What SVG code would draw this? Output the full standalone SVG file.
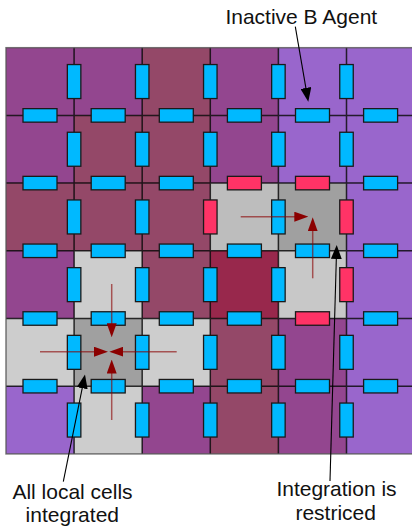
<svg xmlns="http://www.w3.org/2000/svg" width="412" height="529" viewBox="0 0 412 529">
<style>
.P{fill:#93468f}.M{fill:#944868}.L{fill:#9966cc}.C{fill:#98284c}.G1{fill:#cdcdcd}.G2{fill:#a0a0a0}.G3{fill:#bdbdbd}
.grid{stroke:#000;stroke-opacity:0.8;stroke-width:1.5;fill:none}
.b{fill:#00b9ff;stroke:#1a1a1a;stroke-width:1.3}
.r{fill:#ff3366;stroke:#1a1a1a;stroke-width:1.3}
.ra{stroke:#8b0000;stroke-opacity:0.6;stroke-width:1.5;fill:none;marker-end:url(#mr)}
.ba{stroke:#000;stroke-width:1.1;fill:none;marker-end:url(#mb)}
text{font-family:"Liberation Sans",Arial,sans-serif;font-size:21px;fill:#111;text-anchor:middle}
</style>
<defs>
<marker id="mr" markerWidth="14" markerHeight="10" refX="10" refY="5" orient="auto" markerUnits="userSpaceOnUse"><path d="M0,0 L14,5 L0,10 Z" fill="#8b0000"/></marker>
<marker id="mb" markerWidth="14" markerHeight="11" refX="10" refY="5.5" orient="auto" markerUnits="userSpaceOnUse"><path d="M0,0 L14,5.5 L0,11 Z" fill="#000"/></marker>
</defs>
<g id="cells">
<rect class="P" x="6" y="47.7" width="68.1" height="67.7"/><rect class="P" x="74.1" y="47.7" width="68.1" height="67.7"/><rect class="M" x="142.2" y="47.7" width="68.1" height="67.7"/><rect class="P" x="210.3" y="47.7" width="68.1" height="67.7"/><rect class="L" x="278.4" y="47.7" width="68.1" height="67.7"/><rect class="L" x="346.5" y="47.7" width="68.1" height="67.7"/>
<rect class="P" x="6" y="115.4" width="68.1" height="67.7"/><rect class="M" x="74.1" y="115.4" width="68.1" height="67.7"/><rect class="M" x="142.2" y="115.4" width="68.1" height="67.7"/><rect class="P" x="210.3" y="115.4" width="68.1" height="67.7"/><rect class="L" x="278.4" y="115.4" width="68.1" height="67.7"/><rect class="L" x="346.5" y="115.4" width="68.1" height="67.7"/>
<rect class="M" x="6" y="183.1" width="68.1" height="67.7"/><rect class="M" x="74.1" y="183.1" width="68.1" height="67.7"/><rect class="M" x="142.2" y="183.1" width="68.1" height="67.7"/><rect class="G3" x="210.3" y="183.1" width="68.1" height="67.7"/><rect class="G2" x="278.4" y="183.1" width="68.1" height="67.7"/><rect class="L" x="346.5" y="183.1" width="68.1" height="67.7"/>
<rect class="P" x="6" y="250.8" width="68.1" height="67.7"/><rect class="G1" x="74.1" y="250.8" width="68.1" height="67.7"/><rect class="M" x="142.2" y="250.8" width="68.1" height="67.7"/><rect class="C" x="210.3" y="250.8" width="68.1" height="67.7"/><rect class="G1" x="278.4" y="250.8" width="68.1" height="67.7" style="fill:#c8c8c8"/><rect class="L" x="346.5" y="250.8" width="68.1" height="67.7"/>
<rect class="G1" x="6" y="318.5" width="68.1" height="67.7"/><rect class="G2" x="74.1" y="318.5" width="68.1" height="67.7"/><rect class="G1" x="142.2" y="318.5" width="68.1" height="67.7"/><rect class="M" x="210.3" y="318.5" width="68.1" height="67.7"/><rect class="P" x="278.4" y="318.5" width="68.1" height="67.7"/><rect class="L" x="346.5" y="318.5" width="68.1" height="67.7"/>
<rect class="L" x="6" y="386.2" width="68.1" height="67.7"/><rect class="G1" x="74.1" y="386.2" width="68.1" height="67.7"/><rect class="P" x="142.2" y="386.2" width="68.1" height="67.7"/><rect class="M" x="210.3" y="386.2" width="68.1" height="67.7"/><rect class="P" x="278.4" y="386.2" width="68.1" height="67.7"/><rect class="L" x="346.5" y="386.2" width="68.1" height="67.7"/>
</g>
<g id="grid" class="grid">
<path d="M74.1,47.7V453.9M142.2,47.7V453.9M210.3,47.7V453.9M278.4,47.7V453.9M346.5,47.7V453.9M6,115.4H414M6,183.1H414M6,250.8H414M6,318.5H414M6,386.2H414"/>
<rect x="6" y="47.7" width="410" height="406.2" style="stroke:#555"/>
</g>
<g id="agents">
<rect class="b" x="23" y="108.65" width="34" height="13.5"/><rect class="b" x="91.2" y="108.65" width="34" height="13.5"/><rect class="b" x="159.3" y="108.65" width="34" height="13.5"/><rect class="b" x="227.4" y="108.65" width="34" height="13.5"/><rect class="b" x="295.5" y="108.65" width="34" height="13.5"/><rect class="b" x="363.6" y="108.65" width="34" height="13.5"/>
<rect class="b" x="23" y="176.35" width="34" height="13.5"/><rect class="b" x="91.2" y="176.35" width="34" height="13.5"/><rect class="b" x="159.3" y="176.35" width="34" height="13.5"/><rect class="r" x="227.4" y="176.35" width="34" height="13.5"/><rect class="r" x="295.5" y="176.35" width="34" height="13.5"/><rect class="b" x="363.6" y="176.35" width="34" height="13.5"/>
<rect class="b" x="23" y="244.05" width="34" height="13.5"/><rect class="b" x="91.2" y="244.05" width="34" height="13.5"/><rect class="b" x="159.3" y="244.05" width="34" height="13.5"/><rect class="b" x="227.4" y="244.05" width="34" height="13.5"/><rect class="b" x="295.5" y="244.05" width="34" height="13.5"/><rect class="b" x="363.6" y="244.05" width="34" height="13.5"/>
<rect class="b" x="23" y="311.75" width="34" height="13.5"/><rect class="b" x="91.2" y="311.75" width="34" height="13.5"/><rect class="b" x="159.3" y="311.75" width="34" height="13.5"/><rect class="b" x="227.4" y="311.75" width="34" height="13.5"/><rect class="r" x="295.5" y="311.75" width="34" height="13.5"/><rect class="b" x="363.6" y="311.75" width="34" height="13.5"/>
<rect class="b" x="23" y="379.45" width="34" height="13.5"/><rect class="b" x="91.2" y="379.45" width="34" height="13.5"/><rect class="b" x="159.3" y="379.45" width="34" height="13.5"/><rect class="b" x="227.4" y="379.45" width="34" height="13.5"/><rect class="b" x="295.5" y="379.45" width="34" height="13.5"/><rect class="b" x="363.6" y="379.45" width="34" height="13.5"/>
<rect class="b" x="67.35" y="64.55" width="13.5" height="34"/><rect class="b" x="135.45" y="64.55" width="13.5" height="34"/><rect class="b" x="203.55" y="64.55" width="13.5" height="34"/><rect class="b" x="271.65" y="64.55" width="13.5" height="34"/><rect class="b" x="339.75" y="64.55" width="13.5" height="34"/>
<rect class="b" x="67.35" y="132.25" width="13.5" height="34"/><rect class="b" x="135.45" y="132.25" width="13.5" height="34"/><rect class="b" x="203.55" y="132.25" width="13.5" height="34"/><rect class="b" x="271.65" y="132.25" width="13.5" height="34"/><rect class="b" x="339.75" y="132.25" width="13.5" height="34"/>
<rect class="b" x="67.35" y="199.95" width="13.5" height="34"/><rect class="b" x="135.45" y="199.95" width="13.5" height="34"/><rect class="r" x="203.55" y="199.95" width="13.5" height="34"/><rect class="b" x="271.65" y="199.95" width="13.5" height="34"/><rect class="r" x="339.75" y="199.95" width="13.5" height="34"/>
<rect class="b" x="67.35" y="267.65" width="13.5" height="34"/><rect class="b" x="135.45" y="267.65" width="13.5" height="34"/><rect class="b" x="203.55" y="267.65" width="13.5" height="34"/><rect class="b" x="271.65" y="267.65" width="13.5" height="34"/><rect class="r" x="339.75" y="267.65" width="13.5" height="34"/>
<rect class="b" x="67.35" y="335.35" width="13.5" height="34"/><rect class="b" x="135.45" y="335.35" width="13.5" height="34"/><rect class="b" x="203.55" y="335.35" width="13.5" height="34"/><rect class="b" x="271.65" y="335.35" width="13.5" height="34"/><rect class="b" x="339.75" y="335.35" width="13.5" height="34"/>
<rect class="b" x="67.35" y="403.05" width="13.5" height="34"/><rect class="b" x="135.45" y="403.05" width="13.5" height="34"/><rect class="b" x="203.55" y="403.05" width="13.5" height="34"/><rect class="b" x="271.65" y="403.05" width="13.5" height="34"/><rect class="b" x="339.75" y="403.05" width="13.5" height="34"/>
</g>
<g id="connectors">
<line class="ra" x1="111.7" y1="284" x2="111.7" y2="333.3"/>
<line class="ra" x1="111.7" y1="420" x2="111.7" y2="363.5"/>
<line class="ra" x1="40" y1="351.7" x2="104" y2="351.7"/>
<line class="ra" x1="176.7" y1="351.7" x2="113.3" y2="351.7"/>
<line class="ra" x1="240.7" y1="216.7" x2="304.3" y2="216.7"/>
<line class="ra" x1="312.7" y1="278.3" x2="312.7" y2="221.3"/>
<line class="ba" x1="295.3" y1="26.7" x2="307.6" y2="97.8"/>
<line class="ba" x1="330" y1="481" x2="336.6" y2="249"/>
<line class="ba" x1="63.3" y1="481.7" x2="84.2" y2="378.4"/>
</g>
<g id="label-inactive"><text x="301.3" y="24">Inactive B Agent</text></g>
<g id="label-all"><text x="72.5" y="499">All local cells</text><text x="72.3" y="522">integrated</text></g>
<g id="label-restricted"><text x="336.5" y="496">Integration is</text><text x="335.7" y="520">restriced</text></g>
</svg>
